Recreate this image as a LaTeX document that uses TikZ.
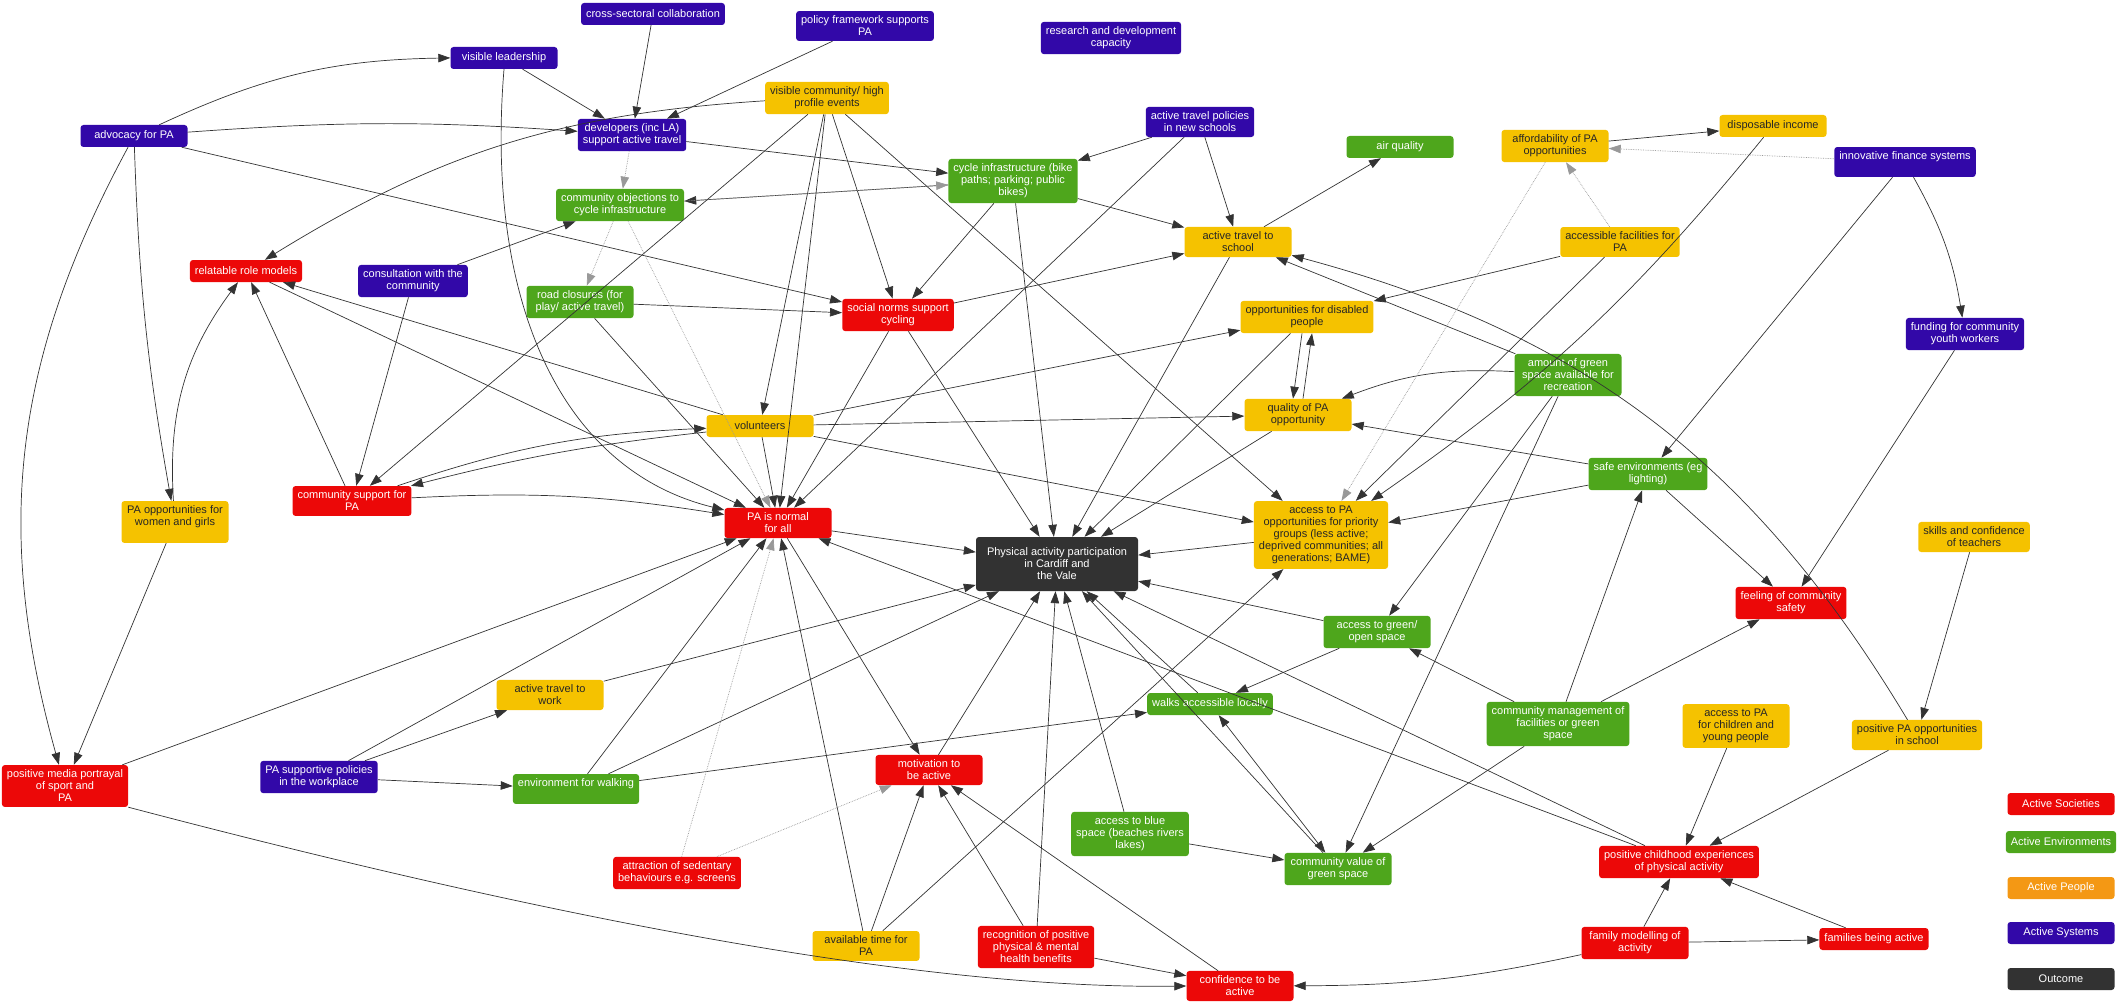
\documentclass[tikz,border=0pt]{standalone}
\usepackage{fontspec}
\setmainfont{Liberation Sans}
\usepackage{xcolor}
\usetikzlibrary{arrows.meta}
\tikzset{>={Triangle[length=12pt,width=8.5pt]}}
\definecolor{Scol}{RGB}{236,8,8}
\definecolor{Ecol}{RGB}{78,166,28}
\definecolor{Pcol}{RGB}{245,194,0}
\definecolor{Lcol}{RGB}{244,152,20}
\definecolor{Ycol}{RGB}{50,8,168}
\definecolor{Ocol}{RGB}{50,50,50}
\tikzset{
  box/.style={rounded corners=3pt, minimum width=107pt, minimum height=22pt,
    inner xsep=5pt, inner ysep=5pt, align=center,
    font=\fontsize{11}{12}\selectfont},
  soc/.style={box, fill=Scol, text=white},
  env/.style={box, fill=Ecol, text=white},
  ppl/.style={box, fill=Pcol, text=black!85},
  sys/.style={box, fill=Ycol, text=white},
  res/.style={box, fill=Ocol, text=white},
  link/.style={->, draw=black!80, line width=0.7pt},
  weak/.style={link, densely dotted, draw=black!40},
}

\begin{document}
\begin{tikzpicture}[x=1pt, y=-1pt]
    \useasboundingbox (0,0) rectangle (2120,1003);

    % top row
    \node [sys] (cross)   at (653, 14)  {cross-sectoral collaboration};
    \node [sys] (policy)  at (865, 26)  {policy framework supports\\PA};
    \node [sys] (research) at (1111, 38) {research and development\\capacity};
    \node [sys] (leader)  at (504, 58)  {visible leadership};
    \node [sys] (advoc)   at (134, 136) {advocacy for PA};
    \node [ppl] (events)  at (827, 98)  {visible community/ high\\profile events};
    \node [sys] (devel)   at (632, 135) {developers (inc LA)\\support active travel};
    \node [env] (cycle)   at (1013, 181) {cycle infrastructure (bike\\paths; parking; public\\bikes)};
    \node [sys] (atpol)   at (1200, 122) {active travel policies\\in new schools};
    \node [env] (air)     at (1400, 147) {air quality};
    \node [ppl] (afford)  at (1555, 146) {affordability of PA\\opportunities};
    \node [ppl] (income)  at (1773, 126) {disposable income};
    \node [sys] (finance) at (1905, 162) {innovative finance systems\\~};

    % upper middle
    \node [env] (object)  at (620, 205) {community objections to\\cycle infrastructure};
    \node [soc] (role)    at (246, 271) {relatable role models};
    \node [sys] (consult) at (413, 281) {consultation with the\\community};
    \node [env] (road)    at (580, 302) {road closures (for\\play/ active travel)};
    \node [soc] (norms)   at (898, 315) {social norms support\\cycling};
    \node [ppl] (atschool) at (1238, 242) {active travel to\\school};
    \node [ppl] (facil)   at (1620, 242) {accessible facilities for\\PA};
    \node [ppl] (disab)   at (1307, 317) {opportunities for disabled\\people};
    \node [env] (green)   at (1568, 375) {amount of green\\space available for\\recreation};
    \node [sys] (youth)   at (1965, 334) {funding for community\\youth workers};
    \node [ppl] (volun)   at (760, 426) {volunteers};
    \node [ppl] (quality) at (1298, 415) {quality of PA\\opportunity};
    \node [env] (safe)    at (1648, 474) {safe environments (eg\\lighting)};

    % centre
    \node [ppl] (women)   at (175, 522) {PA opportunities for\\women and girls\\~};
    \node [soc] (commsup) at (352, 501) {community support for\\PA};
    \node [soc] (normal)  at (778, 523) {PA is normal\\for all};
    \node [res, minimum width=162pt, minimum height=54pt] (outcome) at (1057, 564)
        {Physical activity participation\\in Cardiff and\\the Vale};
    \node [ppl] (access)  at (1321, 535) {access to PA\\opportunities for priority\\groups (less active;\\deprived communities; all\\generations; BAME)};
    \node [ppl] (skills)  at (1974, 537) {skills and confidence\\of teachers};
    \node [soc] (feel)    at (1791, 603) {feeling of community\\safety};
    \node [env] (opensp)  at (1377, 632) {access to green/\\open space};

    % lower part
    \node [ppl] (atwork)  at (550, 695) {active travel to\\work};
    \node [env] (walks)   at (1210, 704) {walks accessible locally};
    \node [env] (manage)  at (1558, 724) {community management of\\facilities or green\\space};
    \node [ppl] (children) at (1736, 726) {access to PA\\for children and\\young people};
    \node [ppl] (school)  at (1917, 735) {positive PA opportunities\\in school};
    \node [soc] (media)   at (65, 786)  {positive media portrayal\\of sport and\\PA};
    \node [sys] (work)    at (319, 777) {PA supportive policies\\in the workplace};
    \node [env] (walking) at (576, 789) {environment for walking\\~};
    \node [soc] (motiv)   at (929, 770) {motivation to\\be active};
    \node [env] (blue)    at (1130, 834) {access to blue\\space (beaches rivers\\lakes)};
    \node [env] (value)   at (1338, 869) {community value of\\green space};
    \node [soc] (child)   at (1679, 862) {positive childhood experiences\\of physical activity};
    \node [soc] (sedent)  at (677, 873) {attraction of sedentary\\behaviours e.g. screens};
    \node [ppl] (time)    at (866, 946) {available time for\\PA};
    \node [soc] (recog)   at (1036, 947) {recognition of positive\\physical \& mental\\health benefits};
    \node [soc] (family)  at (1635, 943) {family modelling of\\activity};
    \node [soc] (famact)  at (1874, 939) {families being active};
    \node [soc] (confid)  at (1240, 986) {confidence to be\\active};

    % legend
    \node [soc] (lsoc) at (2061, 804) {Active Societies};
    \node [env] (lenv) at (2061, 842) {Active Environments};
    \node [box, fill=Lcol, text=white] (lppl) at (2061, 888) {Active People};
    \node [sys] (lsys) at (2061, 933) {Active Systems};
    \node [res] (lout) at (2061, 979) {Outcome};

    % links
    \draw [link] (advoc) to[bend left=12] (leader);
    \draw [link] (advoc) to[bend left=4] (devel);
    \draw [link] (advoc) -- (norms);
    \draw [link] (advoc) to[bend right=4] (women);
    \draw [link] (advoc) to[bend right=22] (media);
    \draw [link] (leader) -- (devel);
    \draw [link] (leader.south) .. controls (485, 300) and (560, 470) .. (normal);
    \draw [link] (events) to[bend right=14] (role);
    \draw [link] (cross) -- (devel);
    \draw [link] (policy) -- (devel);
    \draw [link] (devel) -- (cycle);
    \draw [link] (cycle) -- (object);
    \draw [link] (events) -- (norms);
    \draw [link] (events) -- (volun);
    \draw [link] (events) -- (normal);
    \draw [link] (events) -- (commsup);
    \draw [link] (events) -- (access);
    \draw [link] (cycle) -- (norms);
    \draw [link] (cycle) -- (atschool);
    \draw [link] (cycle) -- (outcome);
    \draw [link] (atpol) -- (cycle);
    \draw [link] (atpol) -- (atschool);
    \draw [link] (atpol) -- (normal);
    \draw [link] (atschool) -- (air);
    \draw [link] (atschool) -- (outcome);
    \draw [link] (norms) -- (atschool);
    \draw [link] (norms) -- (outcome);
    \draw [link] (norms) -- (normal);
    \draw [link] (road) -- (norms);
    \draw [link] (road) -- (normal);
    \draw [link] (consult) -- (object);
    \draw [link] (consult) -- (commsup);
    \draw [link] (commsup) to[bend left=6] (normal);
    \draw [link] (commsup) -- (role);
    \draw [link] (commsup) to[bend left=8] (volun);
    \draw [link] (volun) to[bend right=4] (commsup);
    \draw [link] (women) to[bend left=20] (role);
    \draw [link] (women) -- (media);
    \draw [link] (volun) -- (role);
    \draw [link] (role) -- (normal);
    \draw [link] (volun) -- (normal);
    \draw [link] (volun) -- (disab);
    \draw [link] (volun) -- (quality);
    \draw [link] (volun) -- (access);
    \draw [link] ([xshift=-5pt]disab.south) -- ([xshift=-5pt]quality.north);
    \draw [link] ([xshift=5pt]quality.north) -- ([xshift=5pt]disab.south);
    \draw [link] (facil) -- (disab);
    \draw [link] (facil) -- (access);
    \draw [link] (afford) -- (income);
    \draw [link] (finance) to[bend left=10] (youth);
    \draw [link] (finance) -- (safe);
    \draw [link] (youth) -- (feel);
    \draw [link] (safe) -- (feel);
    \draw [link] (safe) -- (quality);
    \draw [link] (safe) -- (access);
    \draw [link] (green) to[bend right=12] (quality);
    \draw [link] (green) -- (opensp);
    \draw [link] (green) -- (value);
    \draw [link] (green) -- (atschool);
    \draw [link] (income) to[bend left=8] (access);
    \draw [link] (opensp) -- (walks);
    \draw [link] (opensp) -- (outcome);
    \draw [link] (manage) -- (opensp);
    \draw [link] (manage) -- (safe);
    \draw [link] (manage) -- (feel);
    \draw [link] (manage) -- (value);
    \draw [link, <->] (walks) -- (value);
    \draw [link] (blue) -- (value);
    \draw [link] (blue) -- (outcome);
    \draw [link] (value) -- (outcome);
    \draw [link] (walks) -- (outcome);
    \draw [link] (child) -- (outcome);
    \draw [link] (child) -- (normal);
    \draw [link] (children) -- (child);
    \draw [link] (school) -- (child);
    \draw [link] (skills) -- (school);
    \draw [link] (family) -- (child);
    \draw [link] (family) -- (famact);
    \draw [link] (famact) -- (child);
    \draw [link] (family) to[bend left=6] (confid);
    \draw [link] (school) to[bend right=22] (atschool);
    \draw [link] (motiv) -- (outcome);
    \draw [link] (normal) -- (motiv);
    \draw [link] (time) -- (motiv);
    \draw [link] (time) -- (normal);
    \draw [link] (time) -- (access);
    \draw [link] (recog) -- (motiv);
    \draw [link] (recog) -- (outcome);
    \draw [link] (recog) -- (confid);
    \draw [link] (confid) -- (motiv);
    \draw [link] (media) -- (normal);
    \draw [link] (media.south east) .. controls (500, 905) and (900, 990) .. (confid.west);
    \draw [link] (work) -- (atwork);
    \draw [link] (work) -- (walking);
    \draw [link] (work) -- (normal);
    \draw [link] (walking) -- (walks);
    \draw [link] (walking) -- (outcome);
    \draw [link] (walking) -- (normal);
    \draw [link] (atwork) -- (outcome);
    \draw [link] (normal) -- (outcome);
    \draw [link] (access) -- (outcome);
    \draw [link] (quality) -- (outcome);
    \draw [link] (disab) -- (outcome);

    % dotted links
    \draw [weak] (devel) -- (object);
    \draw [weak] (object) -- (cycle);
    \draw [weak] (object) -- (road);
    \draw [weak] (object) -- (normal);
    \draw [weak] (facil) -- (afford);
    \draw [weak] (finance) -- (afford);
    \draw [weak] (afford) -- (access);
    \draw [weak] (sedent) -- (motiv);
    \draw [weak] (sedent) -- (normal);
\end{tikzpicture}
\end{document}
